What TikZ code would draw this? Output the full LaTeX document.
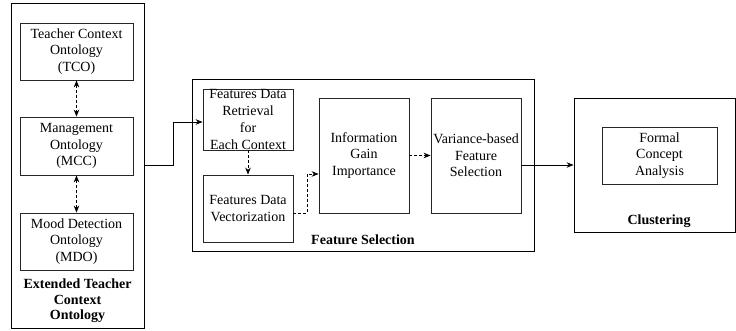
\documentclass[tikz,border=0pt]{standalone}
\usepackage{fontspec}
\setmainfont{Liberation Serif}
\usetikzlibrary{arrows.meta,positioning}
\tikzset{
  box/.style={draw=black!85, line width=0.8pt, rectangle, inner sep=0pt, align=center,
    font=\fontsize{14}{16.7}\selectfont},
  outer/.style={draw=black, line width=0.8pt, rectangle, inner sep=0pt},
  lbl/.style={inner sep=0pt, align=center, font=\fontsize{14}{15.5}\selectfont\bfseries},
  solidarrow/.style={line width=0.8pt, -{Stealth[length=7pt,width=5.5pt]}},
  dasharrow/.style={line width=0.8pt, densely dashed, -{Stealth[length=7pt,width=5.5pt]}},
  dashboth/.style={line width=0.8pt, densely dashed, {Stealth[length=7pt,width=5.5pt]}-{Stealth[length=7pt,width=5.5pt]}}
}
\begin{document}
\begin{tikzpicture}[x=1pt,y=-1pt]
\useasboundingbox (0,0) rectangle (736,331);
% left group
\node[outer, minimum width=133pt, minimum height=325pt] (etco) at (77.5,165.5) {};
\node[box, minimum width=113pt, minimum height=57pt] (tco) at (76.5,51.5) {Teacher Context\\Ontology\\(TCO)};
\node[box, minimum width=113pt, minimum height=58pt] (mcc) at (76.5,146) {Management\\Ontology\\(MCC)};
\node[box, minimum width=113pt, minimum height=57pt] (mdo) at (76.5,241.5) {Mood Detection\\Ontology\\(MDO)};
\node[lbl] (etcolbl) at (77.5,301) {Extended Teacher\\Context\\Ontology};
% feature selection group
\node[outer, minimum width=342pt, minimum height=172pt] (fs) at (363,165) {};
\node[box, minimum width=90pt, minimum height=61pt] (fdr) at (248,119.5) {Features Data\\Retrieval\\for\\Each Context};
\node[box, minimum width=90pt, minimum height=67pt] (fdv) at (248,208.5) {Features Data\\Vectorization};
\node[box, minimum width=90pt, minimum height=115pt] (igi) at (364,155.5) {Information\\Gain\\Importance};
\node[box, minimum width=90pt, minimum height=115pt] (vfs) at (476,155.5) {Variance-based\\Feature\\Selection};
\node[lbl] (fslbl) at (363,240) {Feature Selection};
% clustering group
\node[outer, minimum width=161pt, minimum height=134pt] (cl) at (654.5,165) {};
\node[box, minimum width=115pt, minimum height=57pt] (fca) at (659.5,155.5) {Formal\\Concept\\Analysis};
\node[lbl] (cllbl) at (659,221) {Clustering};
% connectors
\draw[dashboth] (tco.south) -- (mcc.north);
\draw[dashboth] (mcc.south) -- (mdo.north);
\draw[solidarrow] (etco.east) -- ++(29,0) |- ([yshift=-2.5pt]fdr.west);
\draw[dasharrow] (fdr.south) -- (fdv.north);
\draw[dasharrow] ([yshift=-4.5pt]fdv.east) -- ++(14,0) |- ([yshift=-18.5pt]igi.west);
\draw[dasharrow] (igi.east) -- (vfs.west);
\draw[solidarrow] (vfs.east |- cl.west) -- (cl.west);
\end{tikzpicture}
\end{document}
